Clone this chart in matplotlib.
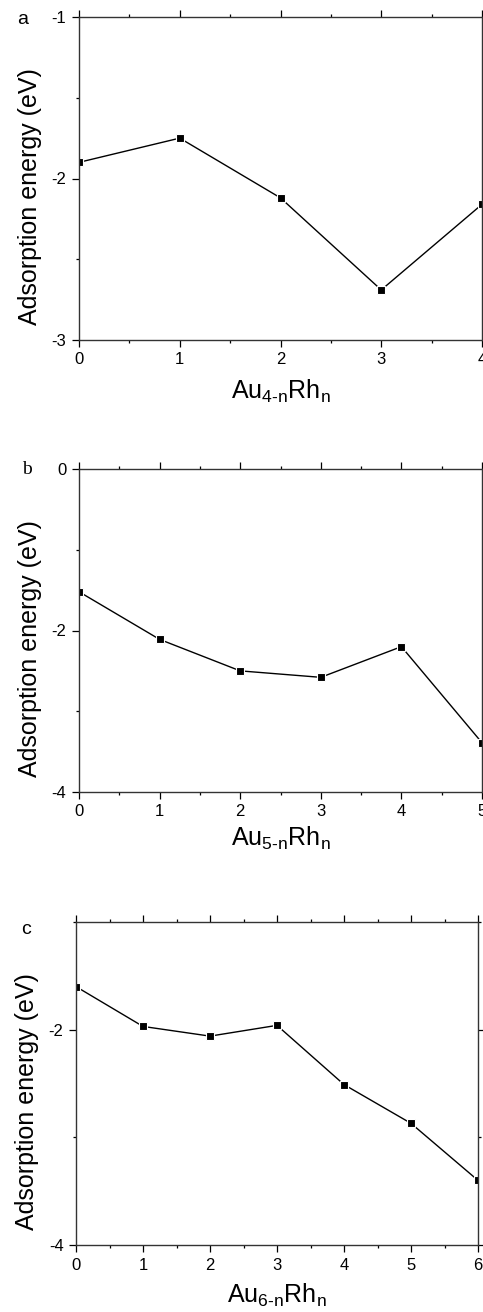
import matplotlib
matplotlib.use('Agg')
import matplotlib.pyplot as plt
from matplotlib.ticker import MultipleLocator

plt.rcParams['font.family'] = ['Liberation Sans', 'DejaVu Sans']
plt.rcParams['mathtext.fontset'] = 'custom'
plt.rcParams['mathtext.rm'] = 'Liberation Sans'
plt.rcParams['mathtext.it'] = 'Liberation Sans'
plt.rcParams['axes.unicode_minus'] = False

# adsorption energies (eV)
n_a = [0, 1, 2, 3, 4]
e_a = [-1.90, -1.75, -2.12, -2.69, -2.16]

n_b = [0, 1, 2, 3, 4, 5]
e_b = [-1.52, -2.11, -2.50, -2.58, -2.20, -3.39]

n_c = [0, 1, 2, 3, 4, 5, 6]
e_c = [-1.60, -1.97, -2.06, -1.96, -2.51, -2.87, -3.40]

xlabels = [r'$\mathregular{Au_{4\text{-}n}Rh_n}$',
           r'$\mathregular{Au_{5\text{-}n}Rh_n}$',
           r'$\mathregular{Au_{6\text{-}n}Rh_n}$']

W, H = 483, 1312
fig = plt.figure(figsize=(W / 100, H / 100), dpi=100)


def px(l, t, r, b):
    return [l / W, 1 - b / H, (r - l) / W, (b - t) / H]


ax_a = fig.add_axes(px(79, 17, 482, 340))
ax_b = fig.add_axes(px(79, 469, 482, 792))
ax_c = fig.add_axes(px(76, 922, 478, 1245))

setup = [
    (ax_a, n_a, e_a, (-3, -1), 1, 0.5, -0.118),
    (ax_b, n_b, e_b, (-4, 0), 2, 1, -0.102),
    (ax_c, n_c, e_c, (-4, -1), 2, 1, -0.115),
]

for i, (ax, n, e, ylim, ymaj, ymin, xlab_y) in enumerate(setup):
    ax.plot(n, e, '-', color='black', lw=1.0, marker='s', ms=5.5,
            mfc='black', mec='white', mew=0.8)
    ax.set_xlim(n[0], n[-1])
    ax.set_ylim(*ylim)
    ax.xaxis.set_major_locator(MultipleLocator(1))
    ax.xaxis.set_minor_locator(MultipleLocator(0.5))
    ax.yaxis.set_major_locator(MultipleLocator(ymaj))
    ax.yaxis.set_minor_locator(MultipleLocator(ymin))
    ax.tick_params(which='both', direction='out', top=True, right=True,
                   width=0.9, labelsize=12, pad=4)
    ax.tick_params(which='major', length=5)
    ax.tick_params(which='minor', length=2.5)
    for sp in ax.spines.values():
        sp.set_linewidth(1.0)
        sp.set_color('#333333')
    ax.set_ylabel('Adsorption energy (eV)', fontsize=18)
    ax.yaxis.set_label_coords(-0.092, 0.445)
    ax.set_xlabel(xlabels[i], fontsize=18)
    ax.xaxis.set_label_coords(0.5, xlab_y)

fig.text(23 / W, 1 - 19 / H, 'a', fontsize=14, ha='center', va='center')
fig.text(27 / W, 1 - 470 / H, 'b', fontsize=14, ha='center', va='center',
         family='Liberation Serif')
fig.text(26 / W, 1 - 930 / H, 'c', fontsize=14, ha='center', va='center')

fig.savefig('out.png', dpi=100)
